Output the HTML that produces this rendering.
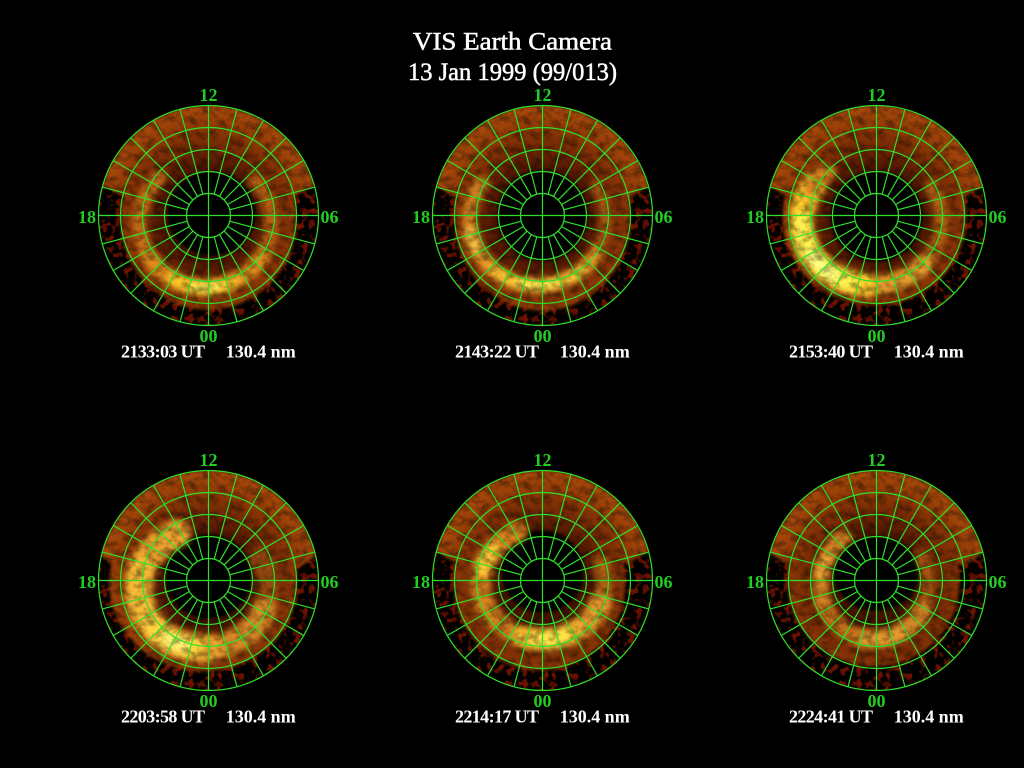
<!DOCTYPE html>
<html>
<head>
<meta charset="utf-8">
<style>
html,body{margin:0;padding:0;background:#000;}
svg{display:block;}
.t{font-family:"Liberation Serif",serif;}
.lab{font-family:"Liberation Serif",serif;font-weight:bold;font-size:18px;fill:#22cc22;}
.cap{font-family:"Liberation Serif",serif;font-weight:bold;font-size:18px;fill:#fff;}
</style>
</head>
<body>
<svg width="1024" height="768" viewBox="0 0 1024 768" xmlns="http://www.w3.org/2000/svg">
<defs>
  <clipPath id="c"><circle cx="0" cy="0" r="110"/></clipPath>
  <radialGradient id="br" gradientUnits="userSpaceOnUse" cx="0" cy="0" r="110">
    <stop offset="0" stop-color="#3a0e00"/>
    <stop offset="0.42" stop-color="#4a1402"/>
    <stop offset="0.6" stop-color="#702704"/>
    <stop offset="0.8" stop-color="#8e3806"/>
    <stop offset="0.95" stop-color="#a4470a"/>
    <stop offset="1" stop-color="#ac4a0c"/>
  </radialGradient>
  <filter id="rb" filterUnits="userSpaceOnUse" x="-140" y="-140" width="280" height="280" color-interpolation-filters="sRGB">
    <feGaussianBlur stdDeviation="3.2"/>
  </filter>
  <filter id="sb" filterUnits="userSpaceOnUse" x="-140" y="-140" width="280" height="280" color-interpolation-filters="sRGB">
    <feGaussianBlur stdDeviation="1.6"/>
  </filter>
  <filter id="tex" filterUnits="userSpaceOnUse" x="-110" y="-110" width="220" height="220" color-interpolation-filters="sRGB">
    <feTurbulence type="fractalNoise" baseFrequency="0.11 0.13" numOctaves="3" seed="7"/>
    <feColorMatrix type="matrix" values="0 0 0 0 0  0 0 0 0 0  0 0 0 0 0  -1.0 0 0 0 0.6"/>
  </filter>
  <filter id="spk" filterUnits="userSpaceOnUse" x="-110" y="-110" width="220" height="220" color-interpolation-filters="sRGB">
    <feTurbulence type="fractalNoise" baseFrequency="0.14" numOctaves="2" seed="3"/>
    <feColorMatrix type="matrix" values="0 0 0 0 0.43  0 0 0 0 0.07  0 0 0 0 0  7 0 0 0 -3.6"/>
  </filter>
  <g id="grid" fill="none" stroke="#2ee02a" stroke-width="1.2">
    <circle cx="0" cy="0" r="22"/>
    <circle cx="0" cy="0" r="44"/>
    <circle cx="0" cy="0" r="66"/>
    <circle cx="0" cy="0" r="88"/>
    <circle cx="0" cy="0" r="110"/>
    <path d="M-110 0H110M0 -110V110"/>
    <path id="q" d="M21.25 5.69L106.25 28.47M19.05 11L95.26 55M15.56 15.56L77.78 77.78M11 19.05L55 95.26M5.69 21.25L28.47 106.25"/>
    <use href="#q" transform="scale(-1,1)"/>
    <use href="#q" transform="scale(1,-1)"/>
    <use href="#q" transform="scale(-1,-1)"/>
  </g>
</defs>

<rect width="1024" height="768" fill="#000"/>

<text class="t" x="512.5" y="49.5" text-anchor="middle" font-size="25" fill="#fff" stroke="#fff" stroke-width="0.5" textLength="199" lengthAdjust="spacingAndGlyphs">VIS Earth Camera</text>
<text class="t" x="512.5" y="80" text-anchor="middle" font-size="25" fill="#fff" stroke="#fff" stroke-width="0.5" textLength="209" lengthAdjust="spacingAndGlyphs">13 Jan 1999 (99/013)</text>

<!-- Panel 1 -->
<g transform="translate(208.5,215.5)">
  <g clip-path="url(#c)">
    <rect x="-110" y="-110" width="220" height="220" filter="url(#spk)"/>
    <g fill="url(#br)" filter="url(#sb)">
      <path d="M-105.24 -32A110 110 0 0 1 105.24 -32Q95 -24 88 -20L-88 -20Q-95 -24 -105.24 -32Z"/>
      <ellipse cx="0" cy="4" rx="88" ry="90"/>
    </g>
    <ellipse cx="3" cy="-2" rx="44" ry="42" fill="#000" filter="url(#sb)"/>
    <g fill="none" stroke-linecap="round" filter="url(#rb)">
      <path d="M63 8A66 64 0 1 1 -69 8A66 64 0 1 1 63 8" pathLength="360" stroke="#b86014" stroke-width="14" stroke-dasharray="85 275" stroke-dashoffset="-320"/>
      <path d="M63 8A66 64 0 1 1 -69 8A66 64 0 1 1 63 8" pathLength="360" stroke="#c87018" stroke-width="14" stroke-dasharray="85 275" stroke-dashoffset="-140"/>
      <path d="M63 8A66 64 0 1 1 -69 8A66 64 0 1 1 63 8" pathLength="360" stroke="#e08c1c" stroke-width="16" stroke-dasharray="120 240" stroke-dashoffset="-30"/>
      <path d="M63 8A66 64 0 1 1 -69 8A66 64 0 1 1 63 8" pathLength="360" stroke="#ffc828" stroke-width="14" stroke-dasharray="55 305" stroke-dashoffset="-65"/>
      <path d="M63 8A66 64 0 1 1 -69 8A66 64 0 1 1 63 8" pathLength="360" stroke="#fff050" stroke-width="10" stroke-dasharray="20 340" stroke-dashoffset="-80"/>
    </g>
    <rect x="-110" y="-110" width="220" height="220" filter="url(#tex)"/>
  </g>
  <use href="#grid"/>
  <text class="lab" x="0" y="-114.5" text-anchor="middle">12</text>
  <text class="lab" x="0" y="126.5" text-anchor="middle">00</text>
  <text class="lab" x="-112.5" y="7.5" text-anchor="end">18</text>
  <text class="lab" x="112" y="7.5">06</text>
  <text class="cap" x="-87.5" y="142" textLength="84">2133:03 UT</text>
  <text class="cap" x="17.2" y="142" textLength="70">130.4 nm</text>
</g>

<!-- Panel 2 -->
<g transform="translate(542.5,215.5)">
  <g clip-path="url(#c)">
    <rect x="-110" y="-110" width="220" height="220" filter="url(#spk)"/>
    <g fill="url(#br)" filter="url(#sb)">
      <path d="M-105.83 -30A110 110 0 0 1 105.83 -30Q95 -22 88 -18L-88 -18Q-95 -22 -105.83 -30Z"/>
      <ellipse cx="0" cy="3" rx="88" ry="92"/>
    </g>
    <ellipse cx="0" cy="0" rx="45" ry="45" fill="#000" filter="url(#sb)"/>
    <g fill="none" stroke-linecap="round" filter="url(#rb)">
      <path d="M63 5A68 65 0 1 1 -73 5A68 65 0 1 1 63 5" pathLength="360" stroke="#a85612" stroke-width="12" stroke-dasharray="70 290" stroke-dashoffset="-330"/>
      <path d="M63 5A68 65 0 1 1 -73 5A68 65 0 1 1 63 5" pathLength="360" stroke="#d08020" stroke-width="14" stroke-dasharray="65 295" stroke-dashoffset="-150"/>
      <path d="M63 5A68 65 0 1 1 -73 5A68 65 0 1 1 63 5" pathLength="360" stroke="#e89826" stroke-width="14" stroke-dasharray="120 240" stroke-dashoffset="-30"/>
      <path d="M63 5A68 65 0 1 1 -73 5A68 65 0 1 1 63 5" pathLength="360" stroke="#ffc834" stroke-width="12" stroke-dasharray="80 280" stroke-dashoffset="-50"/>
      <path d="M63 5A68 65 0 1 1 -73 5A68 65 0 1 1 63 5" pathLength="360" stroke="#fff050" stroke-width="8" stroke-dasharray="30 330" stroke-dashoffset="-75"/>
      <path d="M63 5A68 65 0 1 1 -73 5A68 65 0 1 1 63 5" pathLength="360" stroke="#f8c040" stroke-width="12" stroke-dasharray="15 345" stroke-dashoffset="-155"/>
    </g>
    <rect x="-110" y="-110" width="220" height="220" filter="url(#tex)"/>
  </g>
  <use href="#grid"/>
  <text class="lab" x="0" y="-114.5" text-anchor="middle">12</text>
  <text class="lab" x="0" y="126.5" text-anchor="middle">00</text>
  <text class="lab" x="-112.5" y="7.5" text-anchor="end">18</text>
  <text class="lab" x="112" y="7.5">06</text>
  <text class="cap" x="-87.5" y="142" textLength="84">2143:22 UT</text>
  <text class="cap" x="17.2" y="142" textLength="70">130.4 nm</text>
</g>

<!-- Panel 3 -->
<g transform="translate(876.5,215.5)">
  <g clip-path="url(#c)">
    <rect x="-110" y="-110" width="220" height="220" filter="url(#spk)"/>
    <g fill="url(#br)" filter="url(#sb)">
      <path d="M-105.83 -30A110 110 0 0 1 105.83 -30Q95 -22 88 -18L-88 -18Q-95 -22 -105.83 -30Z"/>
      <ellipse cx="-2" cy="2" rx="92" ry="88"/>
    </g>
    <ellipse cx="0" cy="1" rx="46" ry="45" fill="#000" filter="url(#sb)"/>
    <g fill="none" stroke-linecap="round" filter="url(#rb)">
      <path d="M65 6A70 64 0 1 1 -75 6A70 64 0 1 1 65 6" pathLength="360" stroke="#b06014" stroke-width="14" stroke-dasharray="70 290" stroke-dashoffset="-330"/>
      <path d="M65 6A70 64 0 1 1 -75 6A70 64 0 1 1 65 6" pathLength="360" stroke="#e8a02c" stroke-width="18" stroke-dasharray="60 300" stroke-dashoffset="-40"/>
      <path d="M65 6A70 64 0 1 1 -75 6A70 64 0 1 1 65 6" pathLength="360" stroke="#ffcc2c" stroke-width="24" stroke-dasharray="120 240" stroke-dashoffset="-95"/>
      <path d="M65 6A70 64 0 1 1 -75 6A70 64 0 1 1 65 6" pathLength="360" stroke="#fff04c" stroke-width="18" stroke-dasharray="70 290" stroke-dashoffset="-110"/>
      <path d="M65 6A70 64 0 1 1 -75 6A70 64 0 1 1 65 6" pathLength="360" stroke="#ffff80" stroke-width="12" stroke-dasharray="25 335" stroke-dashoffset="-125"/>
      <path d="M65 6A70 64 0 1 1 -75 6A70 64 0 1 1 65 6" pathLength="360" stroke="#d8841e" stroke-width="16" stroke-dasharray="20 340" stroke-dashoffset="-210"/>
    </g>
    <rect x="-110" y="-110" width="220" height="220" filter="url(#tex)"/>
  </g>
  <use href="#grid"/>
  <text class="lab" x="0" y="-114.5" text-anchor="middle">12</text>
  <text class="lab" x="0" y="126.5" text-anchor="middle">00</text>
  <text class="lab" x="-112.5" y="7.5" text-anchor="end">18</text>
  <text class="lab" x="112" y="7.5">06</text>
  <text class="cap" x="-87.5" y="142" textLength="84">2153:40 UT</text>
  <text class="cap" x="17.2" y="142" textLength="70">130.4 nm</text>
</g>

<!-- Panel 4 -->
<g transform="translate(208.5,580.5)">
  <g clip-path="url(#c)">
    <rect x="-110" y="-110" width="220" height="220" filter="url(#spk)"/>
    <g fill="url(#br)" filter="url(#sb)">
      <path d="M-107.12 -25A110 110 0 0 1 107.12 -25Q97 -17 90 -13L-90 -13Q-97 -17 -107.12 -25Z"/>
      <ellipse cx="-5" cy="3" rx="94" ry="88"/>
    </g>
    <ellipse cx="0" cy="-4" rx="43" ry="42" fill="#000" filter="url(#sb)"/>
    <g fill="none" stroke-linecap="round" filter="url(#rb)">
      <path d="M60 8A65 60 0 1 1 -70 8A65 60 0 1 1 60 8" pathLength="360" stroke="#984a10" stroke-width="20" stroke-dasharray="60 300" stroke-dashoffset="-330"/>
      <path d="M60 8A65 60 0 1 1 -70 8A65 60 0 1 1 60 8" pathLength="360" stroke="#d88a26" stroke-width="24" stroke-dasharray="70 290" stroke-dashoffset="-20"/>
      <path d="M60 8A65 60 0 1 1 -70 8A65 60 0 1 1 60 8" pathLength="360" stroke="#f0a42e" stroke-width="28" stroke-dasharray="160 200" stroke-dashoffset="-85"/>
      <path d="M60 8A65 60 0 1 1 -70 8A65 60 0 1 1 60 8" pathLength="360" stroke="#f8bc36" stroke-width="22" stroke-dasharray="50 310" stroke-dashoffset="-150"/>
      <path d="M60 8A65 60 0 1 1 -70 8A65 60 0 1 1 60 8" pathLength="360" stroke="#ffd43c" stroke-width="22" stroke-dasharray="40 320" stroke-dashoffset="-100"/>
      <path d="M60 8A65 60 0 1 1 -70 8A65 60 0 1 1 60 8" pathLength="360" stroke="#fff070" stroke-width="14" stroke-dasharray="15 345" stroke-dashoffset="-110"/>
    </g>
    <rect x="-110" y="-110" width="220" height="220" filter="url(#tex)"/>
  </g>
  <use href="#grid"/>
  <text class="lab" x="0" y="-114.5" text-anchor="middle">12</text>
  <text class="lab" x="0" y="126.5" text-anchor="middle">00</text>
  <text class="lab" x="-112.5" y="7.5" text-anchor="end">18</text>
  <text class="lab" x="112" y="7.5">06</text>
  <text class="cap" x="-87.5" y="142" textLength="84">2203:58 UT</text>
  <text class="cap" x="17.2" y="142" textLength="70">130.4 nm</text>
</g>

<!-- Panel 5 -->
<g transform="translate(542.5,580.5)">
  <g clip-path="url(#c)">
    <rect x="-110" y="-110" width="220" height="220" filter="url(#spk)"/>
    <g fill="url(#br)" filter="url(#sb)">
      <path d="M-105.83 -30A110 110 0 0 1 105.83 -30Q95 -22 88 -18L-88 -18Q-95 -22 -105.83 -30Z"/>
      <ellipse cx="-3" cy="2" rx="86" ry="88"/>
    </g>
    <ellipse cx="0" cy="-9" rx="41" ry="41" fill="#000" filter="url(#sb)"/>
    <g fill="none" stroke-linecap="round" filter="url(#rb)">
      <path d="M62 3A62 56 0 1 1 -62 3A62 56 0 1 1 62 3" pathLength="360" stroke="#b06014" stroke-width="16" stroke-dasharray="40 320" stroke-dashoffset="-340"/>
      <path d="M62 3A62 56 0 1 1 -62 3A62 56 0 1 1 62 3" pathLength="360" stroke="#e89a2c" stroke-width="22" stroke-dasharray="45 315" stroke-dashoffset="-20"/>
      <path d="M62 3A62 56 0 1 1 -62 3A62 56 0 1 1 62 3" pathLength="360" stroke="#cc781e" stroke-width="20" stroke-dasharray="40 320" stroke-dashoffset="-110"/>
      <path d="M62 3A62 56 0 1 1 -62 3A62 56 0 1 1 62 3" pathLength="360" stroke="#d8841e" stroke-width="20" stroke-dasharray="95 265" stroke-dashoffset="-150"/>
      <path d="M62 3A62 56 0 1 1 -62 3A62 56 0 1 1 62 3" pathLength="360" stroke="#f4b82e" stroke-width="22" stroke-dasharray="50 310" stroke-dashoffset="-60"/>
      <path d="M62 3A62 56 0 1 1 -62 3A62 56 0 1 1 62 3" pathLength="360" stroke="#ffe448" stroke-width="16" stroke-dasharray="25 335" stroke-dashoffset="-70"/>
      <path d="M62 3A62 56 0 1 1 -62 3A62 56 0 1 1 62 3" pathLength="360" stroke="#ffcc36" stroke-width="16" stroke-dasharray="20 340" stroke-dashoffset="-195"/>
    </g>
    <rect x="-110" y="-110" width="220" height="220" filter="url(#tex)"/>
  </g>
  <use href="#grid"/>
  <text class="lab" x="0" y="-114.5" text-anchor="middle">12</text>
  <text class="lab" x="0" y="126.5" text-anchor="middle">00</text>
  <text class="lab" x="-112.5" y="7.5" text-anchor="end">18</text>
  <text class="lab" x="112" y="7.5">06</text>
  <text class="cap" x="-87.5" y="142" textLength="84">2214:17 UT</text>
  <text class="cap" x="17.2" y="142" textLength="70">130.4 nm</text>
</g>

<!-- Panel 6 -->
<g transform="translate(876.5,580.5)">
  <g clip-path="url(#c)">
    <rect x="-110" y="-110" width="220" height="220" filter="url(#spk)"/>
    <g fill="url(#br)" filter="url(#sb)">
      <path d="M-106.38 -28A110 110 0 0 1 106.38 -28Q96 -20 89 -16L-89 -16Q-96 -20 -106.38 -28Z"/>
      <ellipse cx="-3" cy="2" rx="86" ry="84"/>
    </g>
    <ellipse cx="0" cy="-7" rx="43" ry="37" fill="#000" filter="url(#sb)"/>
    <g fill="none" stroke-linecap="round" filter="url(#rb)">
      <path d="M52 3A54 56 0 1 1 -56 3A54 56 0 1 1 52 3" pathLength="360" stroke="#a85612" stroke-width="14" stroke-dasharray="60 300" stroke-dashoffset="-330"/>
      <path d="M52 3A54 56 0 1 1 -56 3A54 56 0 1 1 52 3" pathLength="360" stroke="#d48626" stroke-width="18" stroke-dasharray="80 280" stroke-dashoffset="-30"/>
      <path d="M52 3A54 56 0 1 1 -56 3A54 56 0 1 1 52 3" pathLength="360" stroke="#c4721a" stroke-width="16" stroke-dasharray="50 310" stroke-dashoffset="-110"/>
      <path d="M52 3A54 56 0 1 1 -56 3A54 56 0 1 1 52 3" pathLength="360" stroke="#d68422" stroke-width="16" stroke-dasharray="75 285" stroke-dashoffset="-160"/>
      <path d="M52 3A54 56 0 1 1 -56 3A54 56 0 1 1 52 3" pathLength="360" stroke="#f0a834" stroke-width="12" stroke-dasharray="20 340" stroke-dashoffset="-190"/>
      <path d="M52 3A54 56 0 1 1 -56 3A54 56 0 1 1 52 3" pathLength="360" stroke="#e49a2e" stroke-width="16" stroke-dasharray="40 320" stroke-dashoffset="-60"/>
    </g>
    <rect x="-110" y="-110" width="220" height="220" filter="url(#tex)"/>
  </g>
  <use href="#grid"/>
  <text class="lab" x="0" y="-114.5" text-anchor="middle">12</text>
  <text class="lab" x="0" y="126.5" text-anchor="middle">00</text>
  <text class="lab" x="-112.5" y="7.5" text-anchor="end">18</text>
  <text class="lab" x="112" y="7.5">06</text>
  <text class="cap" x="-87.5" y="142" textLength="84">2224:41 UT</text>
  <text class="cap" x="17.2" y="142" textLength="70">130.4 nm</text>
</g>
</svg>
</body>
</html>
